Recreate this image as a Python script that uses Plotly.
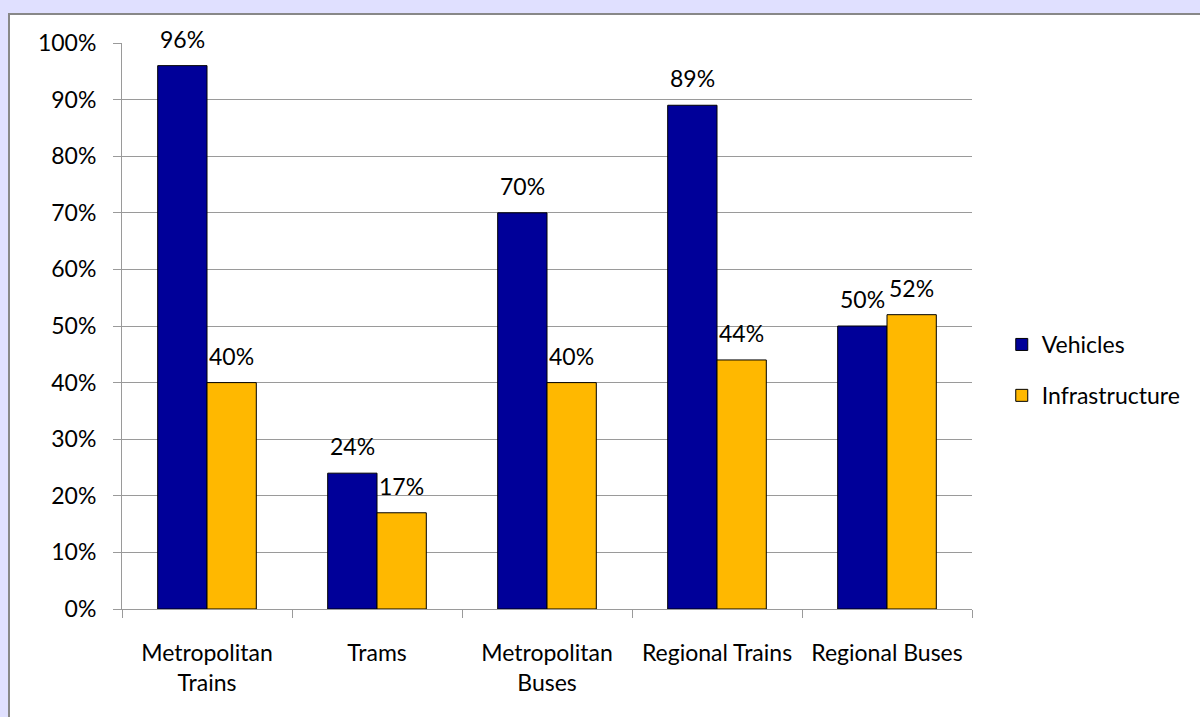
import plotly.graph_objects as go

categories = ["Metropolitan<br>Trains", "Trams", "Metropolitan<br>Buses", "Regional Trains", "Regional Buses"]
vehicles = [96, 24, 70, 89, 50]
infrastructure = [40, 17, 40, 44, 52]
y_ticks = [0, 10, 20, 30, 40, 50, 60, 70, 80, 90, 100]
y_tick_labels = [f"{v}%" for v in y_ticks]

FONT = "Lato"
FS = 23
W, H = 1200, 717
L, R, T, B = 122, 228, 43, 108
pw, ph = W - L - R, H - T - B

fig = go.Figure()
fig.add_trace(go.Bar(name="Vehicles", x=categories, y=vehicles,
                     marker=dict(color="#000099", line=dict(color="#000000", width=1)),
                     legendgroup="a"))
fig.add_trace(go.Bar(name="Infrastructure", x=categories, y=infrastructure,
                     marker=dict(color="#FFB800", line=dict(color="#000000", width=1)),
                     legendgroup="b"))

annotations = []
for trace_vals, offset in ((vehicles, -1), (infrastructure, 1)):
    for i, c in enumerate(categories):
        annotations.append(dict(
            x=c, y=trace_vals[i], xref="x", yref="y",
            text=f"{trace_vals[i]}%", showarrow=False,
            xshift=offset * 24.5, yshift=27, yanchor="middle",
            font=dict(family=FONT, size=FS, color="#000000")))

def px_to_paper_x(p):
    return (p - L) / pw

def px_to_paper_y(p):
    return (H - B - p) / ph

fig.add_shape(type="rect", xref="paper", yref="paper",
              x0=px_to_paper_x(9), x1=px_to_paper_x(1215),
              y0=px_to_paper_y(735), y1=px_to_paper_y(14),
              fillcolor="#FFFFFF", line=dict(color="#888888", width=2), layer="below")

fig.update_layout(
    width=W, height=H,
    margin=dict(l=L, r=R, t=T, b=B, pad=0),
    paper_bgcolor="#E0E0FF",
    plot_bgcolor="#FFFFFF",
    barmode="group", bargap=0.42, bargroupgap=0,
    font=dict(family=FONT, size=FS, color="#000000"),
    annotations=annotations,
    legend=dict(x=1.035, y=px_to_paper_y(370), xanchor="left", yanchor="middle",
                font=dict(family=FONT, size=FS), tracegroupgap=18,
                bgcolor="rgba(0,0,0,0)"),
    xaxis=dict(showline=True, linecolor="#9A9A9A", linewidth=1,
               ticks="outside", tickson="boundaries", ticklen=8, tickcolor="#9A9A9A",
               showgrid=False, tickfont=dict(family=FONT, size=FS),
               ticklabelstandoff=23),
    yaxis=dict(range=[0, 100], tickvals=y_ticks, ticktext=y_tick_labels,
               showline=True, linecolor="#9A9A9A", linewidth=1,
               ticks="outside", ticklen=8, tickcolor="#9A9A9A",
               showgrid=True, gridcolor="#9A9A9A", gridwidth=1,
               zeroline=False, ticklabelstandoff=12,
               tickfont=dict(family=FONT, size=FS)),
)

fig.write_html("out.html")
